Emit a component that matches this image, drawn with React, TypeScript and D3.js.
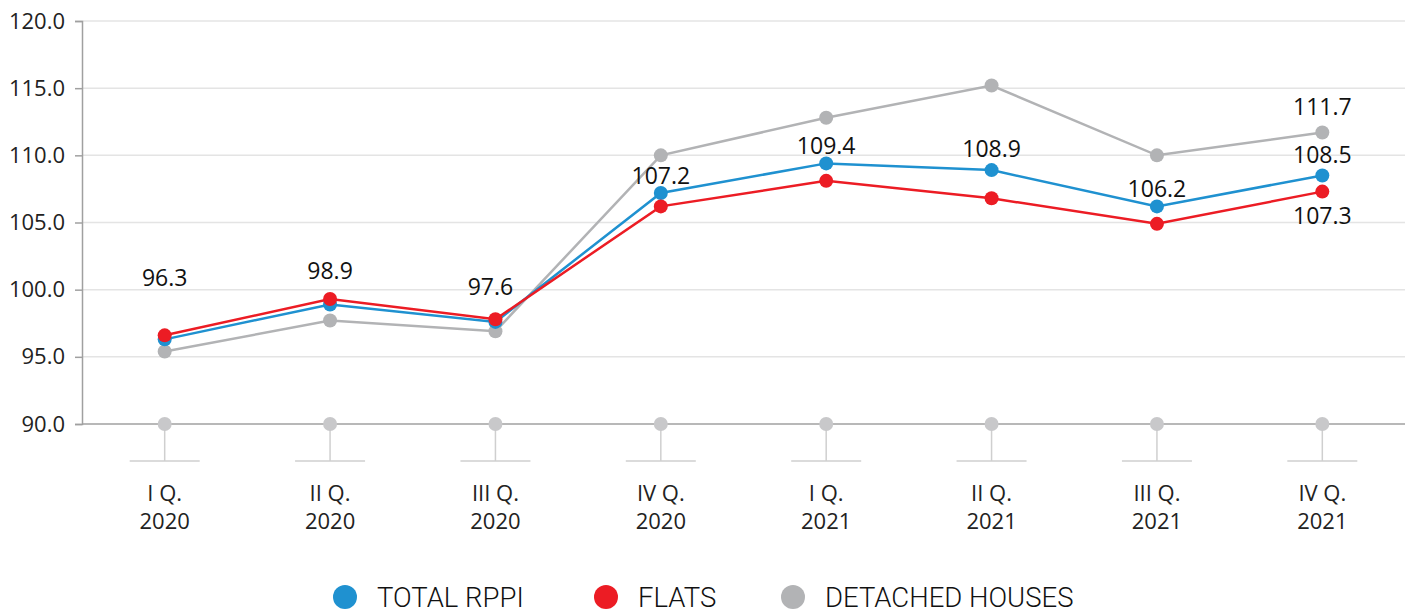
import React, { useEffect, useRef } from 'react';
import * as d3 from 'd3';

const quarters = ['I Q.', 'II Q.', 'III Q.', 'IV Q.', 'I Q.', 'II Q.', 'III Q.', 'IV Q.'];
const years = ['2020', '2020', '2020', '2020', '2021', '2021', '2021', '2021'];
const totalRppi = [96.3, 98.9, 97.6, 107.2, 109.4, 108.9, 106.2, 108.5];
const flats = [96.6, 99.3, 97.8, 106.2, 108.1, 106.8, 104.9, 107.3];
const detachedHouses = [95.4, 97.7, 96.9, 110.0, 112.8, 115.2, 110.0, 111.7];
const yTicks = [90, 95, 100, 105, 110, 115, 120];
const seriesNames = ['TOTAL RPPI', 'FLATS', 'DETACHED HOUSES'];

const App = () => {
  const ref = useRef<SVGSVGElement>(null);

  useEffect(() => {
    const W = 1413;
    const H = 613;
    const left = 82;
    const right = 1405;
    const top = 21;
    const bottom = 424;
    const font = "'Open Sans', sans-serif";

    const svg = d3.select(ref.current);
    svg.selectAll('*').remove();
    svg.attr('width', W).attr('height', H);

    const x = d3.scalePoint<number>().domain(d3.range(quarters.length)).range([left, right]).padding(0.5);
    const y = d3.scaleLinear().domain([90, 120]).range([bottom, top]);

    // grid
    svg.append('g')
      .selectAll('line')
      .data(yTicks.slice(1))
      .enter()
      .append('line')
      .attr('x1', left).attr('x2', right)
      .attr('y1', (d) => y(d)).attr('y2', (d) => y(d))
      .attr('stroke', '#e4e4e4').attr('stroke-width', 1.5);

    // y axis
    const yAxis = svg.append('g')
      .attr('transform', `translate(${left},0)`)
      .call(d3.axisLeft(y).tickValues(yTicks).tickFormat(d3.format('.1f')).tickSize(7).tickPadding(10));
    yAxis.select('.domain').attr('stroke', '#a0a0a0').attr('stroke-width', 1.5);
    yAxis.selectAll('.tick line').attr('stroke', '#a0a0a0').attr('stroke-width', 1.5);
    yAxis.selectAll('.tick text')
      .attr('font-family', font).attr('font-size', 22).attr('fill', '#222');

    // x axis baseline
    svg.append('line')
      .attr('x1', left).attr('x2', right)
      .attr('y1', bottom).attr('y2', bottom)
      .attr('stroke', '#a0a0a0').attr('stroke-width', 1.5);

    const xg = svg.append('g');
    const ticks = xg.selectAll('g').data(d3.range(quarters.length)).enter().append('g')
      .attr('transform', (d) => `translate(${x(d)},0)`);
    ticks.append('line').attr('y1', bottom).attr('y2', 461).attr('stroke', '#cfcfcf').attr('stroke-width', 1.5);
    ticks.append('line').attr('x1', -35).attr('x2', 35).attr('y1', 461).attr('y2', 461).attr('stroke', '#cfcfcf').attr('stroke-width', 1.5);
    ticks.append('circle').attr('cy', bottom).attr('r', 7).attr('fill', '#c8c8ca');
    ticks.append('text').attr('y', 501).attr('text-anchor', 'middle')
      .attr('font-family', font).attr('font-size', 22).attr('fill', '#222')
      .text((d) => quarters[d]);
    ticks.append('text').attr('y', 529).attr('text-anchor', 'middle')
      .attr('font-family', font).attr('font-size', 22).attr('fill', '#222')
      .text((d) => years[d]);

    const series = [
      { values: detachedHouses, color: '#b2b3b5' },
      { values: totalRppi, color: '#1f91d0' },
      { values: flats, color: '#ec1c24' },
    ];

    const line = d3.line<number>().x((d, i) => x(i) as number).y((d) => y(d));

    series.forEach((s) => {
      svg.append('path').datum(s.values)
        .attr('d', line).attr('fill', 'none')
        .attr('stroke', s.color).attr('stroke-width', 2.5);
    });
    series.forEach((s) => {
      svg.append('g').selectAll('circle').data(s.values).enter().append('circle')
        .attr('cx', (d, i) => x(i) as number).attr('cy', (d) => y(d))
        .attr('r', 7).attr('fill', s.color);
    });

    // value labels (vertical offsets from the labelled point)
    const totalDy = [-53, -25, -27, -9, -9, -13, -9, -12];
    const labels = svg.append('g')
      .attr('font-family', font).attr('font-size', 23).attr('fill', '#111').attr('text-anchor', 'middle');
    totalRppi.forEach((v, i) => {
      labels.append('text').attr('x', (x(i) as number) - (i === 2 ? 5 : 0)).attr('y', y(v) + totalDy[i]).text(v.toFixed(1));
    });
    const last = totalRppi.length - 1;
    labels.append('text').attr('x', x(last) as number).attr('y', y(detachedHouses[last]) - 17).text(detachedHouses[last].toFixed(1));
    labels.append('text').attr('x', x(last) as number).attr('y', y(flats[last]) + 32).text(flats[last].toFixed(1));

    // legend
    const legendX = [345, 606, 793];
    const legend = svg.append('g');
    seriesNames.forEach((name, i) => {
      const c = [series[1].color, series[2].color, series[0].color][i];
      legend.append('ellipse').attr('cx', legendX[i]).attr('cy', 597).attr('rx', 12).attr('ry', 12).attr('fill', c);
      legend.append('text').attr('x', legendX[i] + 32).attr('y', 607)
        .attr('font-family', "Roboto, sans-serif").attr('font-weight', 300)
        .attr('font-size', 27.5).attr('fill', '#111').text(name);
    });
  }, []);

  return <svg ref={ref} style={{ position: 'absolute', left: 0, top: 0 }}></svg>;
};

export default App;
